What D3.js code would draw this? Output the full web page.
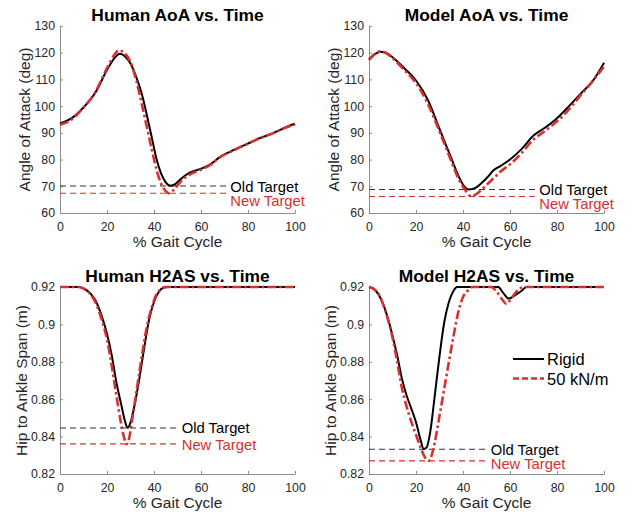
<!DOCTYPE html>
<html>
<head>
<meta charset="utf-8">
<script src="https://cdn.jsdelivr.net/npm/d3@7"></script>
<style>
  body { margin: 0; background: #fff; }
  svg text { font-family: "Liberation Sans", Arial, Helvetica, sans-serif; }
  .axis path, .axis line { stroke: #8c8c8c; }
  .axis text { fill: #262626; font-size: 12.3px; }
</style>
</head>
<body>
<div id="fig"></div>
<script>
// ---- data: [% gait cycle, value] ----
const xTicks = [0, 20, 40, 60, 80, 100];
const aoaTicks = [60, 70, 80, 90, 100, 110, 120, 130];
const h2asTicks = [0.82, 0.84, 0.86, 0.88, 0.9, 0.92];

const humanAoaRigid = [[0,93.5],[5,95.5],[10,99.5],[15,105],[20,113.5],[23,117.8],[25.5,119.6],[28,118.3],[30,116],[32.5,110.8],[35,104],[37,96.5],[39,88.5],[41,80.5],[43,74.8],[45,71.5],[47,70.2],[49,70.8],[51,72.4],[55,75],[60,76.6],[64,78.2],[68,80.9],[74,83.6],[80,86],[85,88],[91,90],[95,91.7],[100,93.4]];
const humanAoaSoft = [[0,93],[5,95],[10,99.5],[15,105.2],[20,114.2],[23,119],[25,120.9],[27.5,119.8],[30,116.5],[32.5,109.5],[35,100],[37,92],[39,84],[41,76.5],[43,71],[45,68.2],[46.3,67.4],[48,68.3],[50,70.3],[52,72.3],[55,74.3],[60,76.2],[64,78],[68,80.8],[74,83.5],[80,86],[85,88],[91,90],[95,91.6],[100,93.2]];

const modelAoaRigid = [[0,117.5],[2.5,119.5],[5,120.4],[7.5,119.8],[10,118.3],[15,114.2],[20,109.6],[25,102.4],[30,91.5],[35,80.5],[38,74],[40.5,70],[42.5,68.8],[45,69.3],[48,71.3],[50,73],[53,76],[56,77.6],[60,80],[65,84],[70,89],[75,92],[80,95.5],[85,99.9],[90,104.6],[95,109.2],[100,116.2]];
const modelAoaSoft = [[0,117.2],[2.5,119.5],[5,120.5],[7.5,119.8],[10,118],[15,113.5],[20,108.6],[25,101],[30,90.5],[35,79.5],[38,73],[41,68.5],[43.5,66.2],[46,67.3],[50,70.5],[53,73],[56,75.5],[60,78.2],[65,82.5],[70,87.5],[75,90.8],[80,94.3],[85,98.7],[90,104],[95,109.2],[100,114.8]];

const humanH2asRigid = [[0,0.92],[8,0.92],[10,0.9192],[13,0.9165],[15,0.913],[18,0.9035],[20,0.895],[22,0.8835],[24,0.869],[26,0.8575],[27.5,0.849],[28.7,0.8447],[30,0.8475],[32,0.8585],[34,0.8727],[36,0.8888],[38,0.903],[40,0.912],[42,0.9173],[44,0.9196],[46,0.92],[100,0.92]];
const humanH2asSoft = [[0,0.92],[8,0.92],[10,0.9192],[13,0.916],[15,0.912],[18,0.9015],[20,0.892],[22,0.878],[24,0.862],[26,0.847],[27.5,0.8385],[28.3,0.836],[29.3,0.8385],[31,0.8515],[33,0.868],[35,0.8845],[37,0.899],[39,0.909],[41,0.916],[43,0.919],[45,0.92],[100,0.92]];

const modelH2asRigid = [[0,0.92],[2,0.919],[5,0.9138],[7,0.9075],[10,0.894],[12,0.8834],[14,0.871],[16,0.862],[18,0.855],[20,0.8477],[22,0.838],[23.2,0.8334],[24.5,0.8342],[26,0.842],[28,0.862],[30,0.883],[32,0.901],[34,0.912],[36,0.918],[37.5,0.92],[55,0.92],[57,0.917],[59.5,0.9138],[62,0.9155],[65,0.918],[67,0.92],[100,0.92]];
const modelH2asSoft = [[0,0.92],[2,0.919],[5,0.914],[7,0.907],[10,0.893],[12,0.88],[14,0.866],[16,0.856],[18,0.848],[20,0.841],[22,0.834],[24,0.8285],[25.5,0.8271],[27,0.8315],[28,0.837],[30,0.851],[32,0.8655],[34,0.88],[36,0.894],[38,0.9066],[40,0.9146],[42,0.918],[44,0.92],[52,0.92],[54,0.918],[56,0.9146],[58.5,0.911],[60,0.9129],[62,0.9164],[64,0.919],[66,0.92],[100,0.92]];

// old / new target levels and where their dashed lines stop
const humanAoaTargets = [70.1, 67.4];
const modelAoaTargets = [68.8, 66.2];
const humanH2asTargets = [0.8446, 0.8361];
const modelH2asTargets = [0.8332, 0.827];
const targetEnds = [71, 71, 50.3, 50.3];

const targetNames = ['Old Target', 'New Target'];
const seriesNames = ['Rigid', '50 kN/m'];

const black = '#000';
const red = '#d9302f';

const svg = d3.select('#fig').append('svg')
  .attr('width', 633)
  .attr('height', 514);

let panels = [
  {title: 'Human AoA vs. Time', ylabel: 'Angle of Attack (deg)', left: 60, top: 26, yDom: [60, 130], yTicks: aoaTicks,
   rigid: humanAoaRigid, soft: humanAoaSoft, targets: humanAoaTargets, labX: -30},
  {title: 'Model AoA vs. Time', ylabel: 'Angle of Attack (deg)', left: 369, top: 26, yDom: [60, 130], yTicks: aoaTicks,
   rigid: modelAoaRigid, soft: modelAoaSoft, targets: modelAoaTargets, labX: -30},
  {title: 'Human H2AS vs. Time', ylabel: 'Hip to Ankle Span (m)', left: 60, top: 287, yDom: [0.82, 0.92], yTicks: h2asTicks,
   rigid: humanH2asRigid, soft: humanH2asSoft, targets: humanH2asTargets, labX: -33},
  {title: 'Model H2AS vs. Time', ylabel: 'Hip to Ankle Span (m)', left: 369, top: 287, yDom: [0.82, 0.92], yTicks: h2asTicks,
   rigid: modelH2asRigid, soft: modelH2asSoft, targets: modelH2asTargets, labX: -33, legend: true}
];

const w = 235, h = 187;

panels.forEach((p, i) => {
  let g = svg.append('g').attr('transform', `translate(${p.left},${p.top})`);

  let x = d3.scaleLinear().domain([0, 100]).range([0, w]);
  let y = d3.scaleLinear().domain(p.yDom).range([h, 0]);

  g.append('g').attr('class', 'axis')
    .attr('transform', `translate(0,${h})`)
    .call(d3.axisBottom(x).tickValues(xTicks).tickSizeInner(-3).tickSizeOuter(0).tickPadding(9));

  g.append('g').attr('class', 'axis')
    .call(d3.axisLeft(y).tickValues(p.yTicks).tickSizeInner(-3).tickSizeOuter(0).tickPadding(5)
      .tickFormat(d => String(+d.toFixed(2))));

  g.selectAll('.axis').attr('font-family', null).attr('font-size', null);

  // title and labels
  g.append('text')
    .attr('x', w / 2).attr('y', -5.5)
    .attr('text-anchor', 'middle')
    .style('font-weight', 'bold').style('font-size', '17.4px')
    .text(p.title);

  g.append('text')
    .attr('x', w / 2).attr('y', h + 34)
    .attr('text-anchor', 'middle')
    .style('font-size', '15.5px').attr('fill', '#262626')
    .text('% Gait Cycle');

  g.append('text')
    .attr('transform', `translate(${p.labX},${h / 2}) rotate(-90)`)
    .attr('text-anchor', 'middle')
    .style('font-size', '15.5px').attr('fill', '#262626')
    .text(p.ylabel);

  // target lines
  let tColors = ['#333', red];
  let oldY = y(p.targets[0]) + 5.5;
  p.targets.forEach((t, j) => {
    g.append('line')
      .attr('x1', x(0)).attr('x2', x(targetEnds[i]))
      .attr('y1', y(t)).attr('y2', y(t))
      .attr('stroke', tColors[j]).attr('stroke-width', 1.1)
      .attr('stroke-dasharray', '6,4');
    let ty = j == 0 ? oldY : Math.max(y(t) + 6, oldY + 14);
    g.append('text')
      .attr('x', x(targetEnds[i]) + 3.5).attr('y', ty)
      .style('font-size', '14.8px')
      .attr('fill', j == 0 ? '#000' : red)
      .text(targetNames[j]);
  });

  let line = d3.line()
    .x(d => x(d[0]))
    .y(d => y(d[1]))
    .curve(d3.curveMonotoneX);

  g.append('path')
    .attr('d', line(p.rigid))
    .attr('fill', 'none').attr('stroke', black).attr('stroke-width', 2);

  g.append('path')
    .attr('d', line(p.soft))
    .attr('fill', 'none').attr('stroke', red).attr('stroke-width', 2.6)
    .attr('stroke-dasharray', '9,3,2.5,3');

  if (p.legend) {
    let leg = g.append('g').attr('transform', `translate(${513 - p.left},0)`);
    [black, red].forEach((c, j) => {
      let ly = 359 - p.top + j * 19.5;
      leg.append('line')
        .attr('x1', 0).attr('x2', 31).attr('y1', ly).attr('y2', ly)
        .attr('stroke', c).attr('stroke-width', j == 0 ? 2 : 2.6)
        .attr('stroke-dasharray', j == 0 ? null : '6,3');
      leg.append('text')
        .attr('x', 34).attr('y', ly + 6)
        .style('font-size', '16.5px')
        .text(seriesNames[j]);
    });
  }
});
</script>
</body>
</html>
